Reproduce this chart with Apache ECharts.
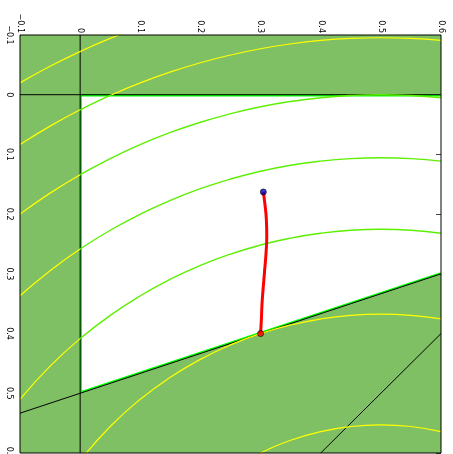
<!DOCTYPE html>
<html>
<head>
<meta charset="utf-8">
<script src="https://cdn.jsdelivr.net/npm/echarts@6/dist/echarts.min.js"></script>
<style>
html, body { margin: 0; padding: 0; background: #fff; }
#chart { width: 453px; height: 454px; }
</style>
</head>
<body>
<div id="chart"></div>
<script>
// Axis ranges and tick step
const xRange = [-0.1, 0.6];
const yRange = [-0.1, 0.6];
const tickStep = 0.1;

// Feasible region: x >= 0, y >= 0, y <= 0.5 - x/3
const feasibleX = [0, 0.6, 0.6, 0];
const feasibleY = [0, 0, 0.3, 0.5];

// Constraint boundaries (edges of the feasible region)
const boundaryX0 = [[0, 0], [0, 0.5]];
const boundaryY0 = [[0, 0], [0.6, 0]];
const boundaryDiag = [[0, 0.5], [0.6, 0.3]];

// Reference lines drawn in black
const axisLineV = [[0, -0.1], [0, 0.6]];
const axisLineH = [[-0.1, 0], [0.6, 0]];
const constraintLine = [[-0.1, 0.5333], [0.6, 0.3]];
const sumLine = [[0.4, 0.6], [0.6, 0.4]];

// Objective level curves, one list of [x, y] per level
const level14 = [[-0.1, -0.0198], [-0.05, -0.0476], [0, -0.0724], [0.05, -0.0943], [0.1, -0.1136]];
const level12 = [[-0.1, 0.0835], [-0.05, 0.0526], [0, 0.0253], [0.025, 0.0129], [0.0528, 0], [0.1, -0.0198],
  [0.15, -0.0380], [0.2, -0.0536], [0.25, -0.0665], [0.3, -0.0770], [0.35, -0.0851], [0.4, -0.0909],
  [0.45, -0.0943], [0.5, -0.0954], [0.55, -0.0943], [0.6, -0.0909]];
const level10 = [[-0.1, 0.2], [-0.05, 0.1648], [0, 0.1340], [0.05, 0.1070], [0.1, 0.0835], [0.15, 0.0632],
  [0.2, 0.0461], [0.25, 0.0318], [0.3, 0.0202], [0.35, 0.0113], [0.4, 0.0050], [0.45, 0.0013],
  [0.5, 0], [0.55, 0.0013], [0.6, 0.0050]];
const level08 = [[-0.1, 0.3367], [-0.05, 0.2947], [0, 0.2584], [0.05, 0.2270], [0.1, 0.2], [0.15, 0.1769],
  [0.2, 0.1574], [0.25, 0.1412], [0.3, 0.1282], [0.35, 0.1182], [0.4, 0.1112], [0.45, 0.1070],
  [0.5, 0.1056], [0.55, 0.1070], [0.6, 0.1112]];
const level06 = [[-0.1, 0.5101], [-0.05, 0.4546], [0, 0.4084], [0.05, 0.3695], [0.1, 0.3367], [0.15, 0.3090],
  [0.2, 0.2859], [0.25, 0.2669], [0.3, 0.2517], [0.35, 0.2401], [0.4, 0.2319], [0.45, 0.2270],
  [0.5, 0.2254], [0.55, 0.2270], [0.6, 0.2319]];
const level04 = [[0, 0.6127], [0.05, 0.5556], [0.1, 0.5101], [0.15, 0.4732], [0.2, 0.4432], [0.25, 0.4190],
  [0.3, 0.4], [0.35, 0.3856], [0.4, 0.3755], [0.45, 0.3695], [0.5, 0.3675], [0.55, 0.3695], [0.6, 0.3755]];
const level02 = [[0.25, 0.6292], [0.3, 0.6], [0.35, 0.5787], [0.4, 0.5641], [0.45, 0.5556], [0.5, 0.5528],
  [0.55, 0.5556], [0.6, 0.5641]];

// Optimisation path from start to optimum
const pathX = [0.3046, 0.3069, 0.3096, 0.3103, 0.3091, 0.3069, 0.3046, 0.3025, 0.3013, 0.3];
const pathY = [0.1629, 0.1807, 0.2087, 0.2368, 0.2647, 0.2927, 0.3207, 0.3486, 0.3767, 0.4];

const fillColor = '#80c064';
const limeColor = '#5cf000';
const yellowColor = '#ffff00';

const polygon = feasibleX.map((x, i) => [x, feasibleY[i]]);

function insideFeasible(p) {
  let inside = false;
  for (let i = 0, j = polygon.length - 1; i < polygon.length; j = i++) {
    const [xi, yi] = polygon[i], [xj, yj] = polygon[j];
    if ((yi > p[1]) !== (yj > p[1]) && p[0] < (xj - xi) * (p[1] - yi) / (yj - yi) + xi) inside = !inside;
  }
  return inside;
}

// Split a polyline into runs lying inside / outside the feasible region
function splitRuns(points) {
  const runs = [];
  for (let i = 0; i < points.length - 1; i++) {
    const a = points[i], b = points[i + 1];
    const mid = [(a[0] + b[0]) / 2, (a[1] + b[1]) / 2];
    const inside = insideFeasible(mid);
    const last = runs[runs.length - 1];
    if (last && last.inside === inside) last.pts.push(b);
    else runs.push({ inside, pts: [a, b] });
  }
  return runs;
}

function lineSeries(data, color, width, z, smooth) {
  return {
    type: 'line', data: data, symbol: 'none', smooth: smooth || false,
    lineStyle: { color: color, width: width }, z: z, silent: true, clip: true,
    xAxisIndex: 0, yAxisIndex: 0
  };
}

const series = [];

// Constraint edges in lime (outer half gets covered by the shaded area)
[boundaryX0, boundaryY0, boundaryDiag].forEach(seg => series.push(lineSeries(seg, '#00ff00', 3.5, 2)));

// Shaded infeasible area: plot rectangle with the feasible polygon cut out
series.push({
  type: 'custom', coordinateSystem: 'cartesian2d', xAxisIndex: 0, yAxisIndex: 0,
  data: [[xRange[0], yRange[0]]], z: 3, silent: true,
  renderItem: function (params, api) {
    const outer = [[xRange[0], yRange[0]], [xRange[1], yRange[0]], [xRange[1], yRange[1]], [xRange[0], yRange[1]]]
      .map(p => api.coord(p));
    const hole = polygon.slice().reverse().map(p => api.coord(p));
    const toPath = pts => 'M' + pts.map(p => p[0] + ' ' + p[1]).join(' L') + ' Z';
    return { type: 'path', shape: { pathData: toPath(outer) + ' ' + toPath(hole) }, style: { fill: fillColor } };
  }
});

// Black reference lines
[axisLineV, axisLineH, constraintLine, sumLine].forEach(seg => series.push(lineSeries(seg, '#000', 1, 4)));

// Level curves: lime inside the feasible region, yellow outside
[level14, level12, level10, level08, level06, level04, level02].forEach(curve => {
  splitRuns(curve).forEach(run => {
    series.push(lineSeries(run.pts, run.inside ? limeColor : yellowColor, run.inside ? 1.4 : 1.2, 5, 0.5));
  });
});

// Optimisation path
series.push(lineSeries(pathX.map((x, i) => [x, pathY[i]]), '#ff0000', 3, 6, 0.5));
series.push({
  type: 'scatter', xAxisIndex: 0, yAxisIndex: 0, z: 7, silent: true, symbolSize: 6,
  data: [
    { value: [pathX[0], pathY[0]], itemStyle: { color: '#0000cc', borderColor: '#000', borderWidth: 0.8 } },
    { value: [pathX[pathX.length - 1], pathY[pathY.length - 1]], itemStyle: { color: '#ff0000', borderColor: '#000', borderWidth: 0.8 } }
  ]
});

const fmt = v => {
  const r = Math.round(v * 10) / 10;
  return (r < 0 ? '\u2212' : '') + Math.abs(r).toString();
};

const labelStyle = { rotate: -90, fontSize: 8, fontFamily: 'DejaVu Sans', color: '#000', formatter: fmt };

const chart = echarts.init(document.getElementById('chart'), null, { renderer: 'canvas' });
chart.setOption({
  animation: false,
  grid: {
    left: 20, right: 12, top: 35, bottom: 1, containLabel: false, outerBoundsMode: 'none',
    show: true, borderColor: '#000', borderWidth: 1, backgroundColor: 'transparent', z: 20
  },
  xAxis: [{
    type: 'value', position: 'top', min: xRange[0], max: xRange[1], interval: tickStep,
    axisLine: { show: false }, axisTick: { show: false }, splitLine: { show: false },
    axisLabel: Object.assign({ margin: 2 }, labelStyle)
  }],
  yAxis: [{
    type: 'value', position: 'left', inverse: true, min: yRange[0], max: yRange[1], interval: tickStep,
    axisLine: { show: false }, axisTick: { show: false }, splitLine: { show: false },
    axisLabel: Object.assign({ margin: 7 }, labelStyle)
  }, {
    type: 'value', position: 'right', inverse: true, min: yRange[0], max: yRange[1], interval: tickStep,
    axisLine: { show: false }, splitLine: { show: false }, axisLabel: { show: false },
    axisTick: { show: true, inside: true, length: 5, lineStyle: { color: '#444', width: 1 } }
  }],
  series: series
});
</script>
</body>
</html>
